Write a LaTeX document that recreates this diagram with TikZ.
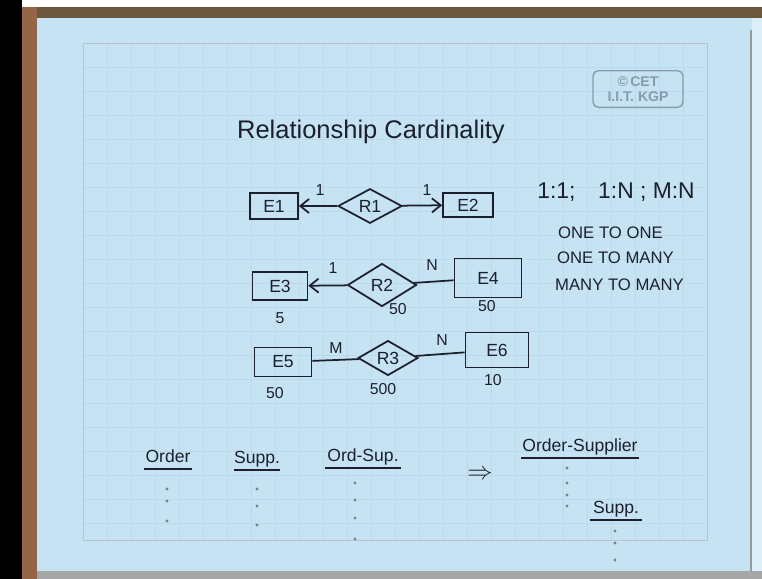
\documentclass[tikz,border=0pt]{standalone}
\usepackage{fontspec}
\setmainfont{Liberation Sans}
\usetikzlibrary{arrows.meta,shapes.geometric}
\definecolor{paper}{RGB}{198,227,243}
\definecolor{gridblue}{RGB}{187,217,238}
\definecolor{ink}{RGB}{28,32,45}
\definecolor{wood}{RGB}{150,100,70}
\definecolor{woodtop}{RGB}{105,88,62}
\definecolor{stampgray}{RGB}{135,155,172}
\tikzset{
  cardfig/.style={x=0.02cm,y=-0.02cm,>={Straight Barb[length=5pt,width=8pt]},
    every node/.style={font=\fontsize{10}{12}\selectfont,text=ink}},
  entity/.style={draw=ink,line width=1pt,inner sep=1pt},
  relship/.style={diamond,draw=ink,line width=1pt,inner sep=0pt},
  link/.style={draw=ink,line width=1pt},
  card/.style={font=\fontsize{9}{10}\selectfont},
  note/.style={font=\fontsize{9.5}{11}\selectfont},
  heading/.style={inner xsep=0pt,inner ysep=1pt,text height=1.6ex,text depth=0.5ex},
  rule/.style={draw=ink,line width=1.3pt},
  dotmark/.style={circle,fill=black!50,inner sep=0.7pt},
  gridline/.style={draw=gridblue,line width=0.4pt},
}

\begin{document}
\begin{tikzpicture}[cardfig]
    \useasboundingbox (0,0) rectangle (762,579);
    \fill[white] (0,0) rectangle (762,579);
    \fill[black] (0,0) rectangle (22,579);
    \fill[woodtop] (22,7) rectangle (762,18);
    \fill[wood] (22,7) rectangle (37,579);
    \fill[paper] (37,18) rectangle (762,571);
    \fill[paper!60!white] (752,18) rectangle (762,571);
    \fill[black!40] (750,30) rectangle (752,571);
    \fill[black!35] (37,571) rectangle (762,579);
    \foreach \gx in {107,131,...,683} \draw[gridline] (\gx,43) -- (\gx,540);
    \foreach \gy in {67,91,...,523} \draw[gridline] (83,\gy) -- (707,\gy);
    \draw[draw=stampgray!60,line width=0.5pt] (83,43) rectangle (707,540);

    \node[draw=stampgray,rounded corners=3pt,line width=0.8pt,minimum width=1.8cm,
      minimum height=0.64cm,align=center,text=stampgray,
      font=\fontsize{8}{8.5}\selectfont\bfseries] (stamp) at (638,89)
      {\textcopyright\,CET\\I.I.T. KGP};
    \node[font=\fontsize{14.5}{16}\selectfont] (title) at (371,132) {Relationship Cardinality};

    \node[entity,minimum width=0.96cm,minimum height=0.52cm] (eone) at (274,206) {E1};
    \node[relship,minimum width=1.28cm,minimum height=0.62cm] (rone) at (370,206) {R1};
    \node[entity,minimum width=1.0cm,minimum height=0.48cm] (etwo) at (468,205) {E2};
    \draw[link,->] (rone) -- (eone);
    \draw[link,->] (rone) -- (etwo);
    \node[card] (conea) at (320,190) {1};
    \node[card] (coneb) at (427,190) {1};

    \node[entity,minimum width=1.1cm,minimum height=0.56cm] (ethree) at (280,286) {E3};
    \node[relship,minimum width=1.38cm,minimum height=0.86cm] (rtwo) at (382,285) {R2};
    \node[entity,minimum width=1.34cm,minimum height=0.78cm] (efour) at (488,278) {E4};
    \draw[link,->] (rtwo) -- (ethree);
    \draw[link] (rtwo) -- (efour);
    \node[card] (ctwoa) at (333,268) {1};
    \node[card] (ctwob) at (432,265) {N};
    \node[card] (nthree) at (280,318) {5};
    \node[card] (nrtwo) at (398,309) {50};
    \node[card] (nfour) at (487,306) {50};

    \node[entity,minimum width=1.14cm,minimum height=0.58cm] (efive) at (283,362) {E5};
    \node[relship,minimum width=1.2cm,minimum height=0.66cm] (rthree) at (388,358) {R3};
    \node[entity,minimum width=1.26cm,minimum height=0.7cm] (esix) at (497,350) {E6};
    \draw[link] (efive) -- (rthree);
    \draw[link] (rthree) -- (esix);
    \node[card] (cthreea) at (336,348) {M};
    \node[card] (cthreeb) at (442,340) {N};
    \node[card] (nfive) at (275,393) {50};
    \node[card] (nrthree) at (383,389) {500};
    \node[card] (nsix) at (493,380) {10};

    \node[font=\fontsize{13}{15}\selectfont] (ratios) at (616,192) {1:1;\quad 1:N ; M:N};
    \node[note,anchor=west] (onetoone) at (552,233) {ONE TO ONE};
    \node[note,anchor=west] (onetomany) at (551,258) {ONE TO MANY};
    \node[note,anchor=west] (manytomany) at (549,285) {MANY TO MANY};

    \node[heading,minimum width=0.94cm] (order) at (168,457) {Order};
    \node[heading,minimum width=0.84cm] (supp) at (257,458) {Supp.};
    \node[heading,minimum width=1.5cm] (ordsup) at (363,456) {Ord-Sup.};
    \node[font=\Large] (implies) at (480,475) {$\Rightarrow$};
    \node[heading,minimum width=2.34cm] (ordersupplier) at (580,446) {Order-Supplier};
    \node[heading,minimum width=1.04cm] (suppb) at (616,508) {Supp.};
    \foreach \hd in {order,supp,ordsup,ordersupplier,suppb}
      \draw[rule] (\hd.south west) -- (\hd.south east);

    \foreach \dy [count=\k] in {489,501,521} \node[dotmark] (orderdot\k) at (167,\dy) {};
    \foreach \dy [count=\k] in {489,506,525} \node[dotmark] (suppdot\k) at (257,\dy) {};
    \foreach \dy [count=\k] in {483,500,518,539} \node[dotmark] (ordsupdot\k) at (355,\dy) {};
    \foreach \dy [count=\k] in {468,483,495,506} \node[dotmark] (osdot\k) at (567,\dy) {};
    \foreach \dy [count=\k] in {531,543,560} \node[dotmark] (suppbdot\k) at (615,\dy) {};
  \end{tikzpicture}
\end{document}
